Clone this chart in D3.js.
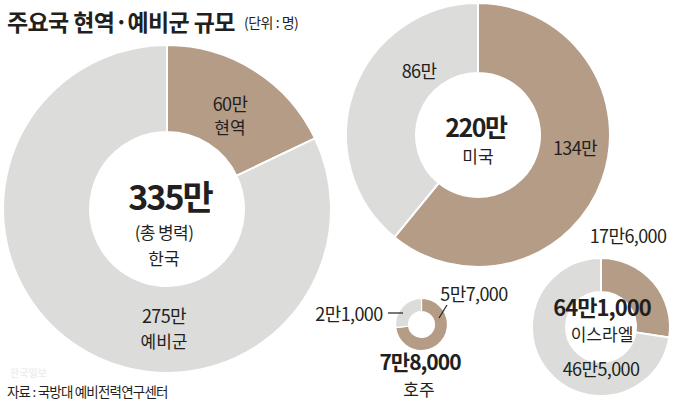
<!DOCTYPE html>
<html><head><meta charset="utf-8">
<script src="https://cdn.jsdelivr.net/npm/d3@7"></script>
<style>
html,body{margin:0;padding:0;background:#fff;}
svg{display:block;font-family:"Noto Sans CJK KR","Noto Sans",sans-serif;}
</style></head>
<body><svg id="c" width="680" height="401"></svg>
<script>
// ---- data ----
const countries = ["한국", "미국", "호주", "이스라엘"];
const activeTroops = [600000, 1340000, 57000, 176000];
const reserveTroops = [2750000, 860000, 21000, 465000];
const seriesNames = ["현역", "예비군"];
const titleText = "주요국 현역·예비군 규모";
const unitText = "(단위 : 명)";
const sourceText = "자료 : 국방대 예비전력연구센터";

// ---- layout (not data) ----
const layout = [
  {cx:167, cy:209, r:164, ir:77},
  {cx:478, cy:135, r:132, ir:62},
  {cx:421.5, cy:324.5, r:26, ir:13},
  {cx:601, cy:327, r:69, ir:35}
];
const colors = ["#b59c87", "#dcdcdb"];

function fmt(v){
  const man = Math.floor(v/10000), rest = v % 10000;
  return rest > 0 ? man + "만" + d3.format(",")(rest) : man + "만";
}

const svg = d3.select("#c");
const pie = d3.pie().sort(null).value(d => d);

countries.forEach((c, i) => {
  const L = layout[i];
  const g = svg.append("g").attr("transform", `translate(${L.cx},${L.cy})`);
  const arc = d3.arc().innerRadius(L.ir).outerRadius(L.r);
  g.selectAll("path").data(pie([activeTroops[i], reserveTroops[i]])).join("path")
    .attr("d", arc).attr("fill", (d, j) => colors[j])
    .attr("stroke", "#fff").attr("stroke-width", i === 2 ? 1.2 : 2);
});

function txt(x, y, s, size, weight, anchor, extra){
  const t = svg.append("text").attr("x", x).attr("y", y).text(s)
    .attr("font-size", size).attr("font-weight", weight || 400)
    .attr("text-anchor", anchor || "middle").attr("fill", "#231f20")
    .attr("dominant-baseline", "central");
  if (extra) extra(t);
  return t;
}
const tight = t => t.attr("letter-spacing", -0.6);

// title
txt(7, 21, titleText, 23, 700, "start", t => t.attr("letter-spacing", -0.6));
txt(244, 22, unitText, 14, 400, "start", t => t.attr("letter-spacing", -0.5));

// Korea
const total0 = activeTroops[0] + reserveTroops[0];
txt(230, 103, fmt(activeTroops[0]), 18, 400, "middle", tight);
txt(230, 126, seriesNames[0], 17);
txt(170, 195, fmt(total0), 34, 700, "middle", t => t.attr("letter-spacing", -2));
txt(164, 231, "(총 병력)", 17, 400, "middle", tight);
txt(164, 257, countries[0], 17);
txt(164, 315, fmt(reserveTroops[0]), 18, 400, "middle", tight);
txt(164, 340, seriesNames[1], 17);

// USA
const total1 = activeTroops[1] + reserveTroops[1];
txt(476, 126, fmt(total1), 25, 700, "middle", t => t.attr("letter-spacing", -1.5));
txt(478, 155, countries[1], 17);
txt(419, 70, fmt(reserveTroops[1]), 18, 400, "middle", tight);
txt(575, 147, fmt(activeTroops[1]), 18, 400, "middle", tight);

// Australia
const total2 = activeTroops[2] + reserveTroops[2];
txt(474, 293, fmt(activeTroops[2]), 18, 400, "middle", tight);
txt(349, 313, fmt(reserveTroops[2]), 18, 400, "middle", tight);
txt(420, 361, fmt(total2), 21, 700, "middle", t => t.attr("letter-spacing", -1));
txt(419, 388, countries[2], 17);
svg.append("line").attr("x1", 388).attr("x2", 403).attr("y1", 313).attr("y2", 313)
  .attr("stroke", "#231f20").attr("stroke-width", 1.2);
svg.append("line").attr("x1", 447).attr("y1", 305).attr("x2", 439).attr("y2", 318)
  .attr("stroke", "#231f20").attr("stroke-width", 1.2);

// Israel
const total3 = activeTroops[3] + reserveTroops[3];
txt(628, 235, fmt(activeTroops[3]), 18, 400, "middle", tight);
txt(602, 306, fmt(total3), 22, 700, "middle", t => t.attr("letter-spacing", -1));
txt(602, 333, countries[3], 17);
txt(601, 368, fmt(reserveTroops[3]), 18, 400, "middle", tight);

// watermark + source
txt(10, 372, "한국일보", 10, 700, "start", t => t.attr("fill", "#eeeeee"));
txt(7, 391, sourceText, 13.5, 400, "start", t => t.attr("letter-spacing", -0.8));
</script></body></html>
